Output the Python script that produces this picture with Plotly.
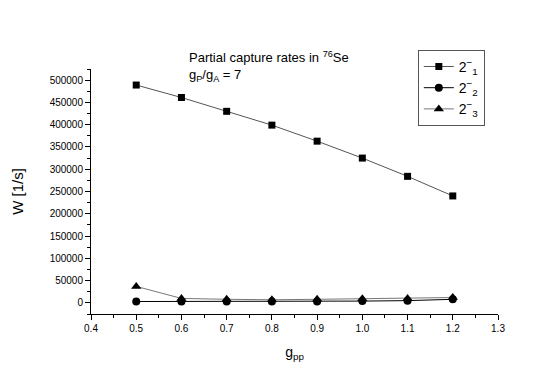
"""Partial capture rates in 76Se, gP/gA = 7."""

import plotly.graph_objects as go

g_pp = [0.5, 0.6, 0.7, 0.8, 0.9, 1.0, 1.1, 1.2]
w_2m1 = [489000, 461000, 430000, 399000, 363000, 325000, 284000, 240000]
w_2m2 = [3000, 3000, 3000, 3000, 3000, 4000, 5000, 8000]
w_2m3 = [37000, 10000, 8000, 7000, 8000, 9000, 10000, 12000]

series = [
    ("2<sup>−</sup><sub>1</sub>", w_2m1, "square", 7, "#555555"),
    ("2<sup>−</sup><sub>2</sub>", w_2m2, "circle", 8, "#000000"),
    ("2<sup>−</sup><sub>3</sub>", w_2m3, "triangle-up", 9, "#777777"),
]

fig = go.Figure()
for name, ys, symbol, size, line_color in series:
    fig.add_trace(go.Scatter(
        x=g_pp, y=ys, mode="lines+markers", name=name,
        line=dict(color=line_color, width=1),
        marker=dict(symbol=symbol, size=size, color="black"),
    ))

axis_common = dict(
    showline=True, linecolor="black", linewidth=1,
    ticks="outside", ticklen=5, tickcolor="black",
    showgrid=False, zeroline=False, automargin=False,
    tickfont=dict(family="Liberation Sans, Arial", size=10, color="black"),
)

fig.update_xaxes(
    range=[0.4, 1.3], dtick=0.1, tickformat=".1f",
    minor=dict(ticks="outside", ticklen=3, dtick=0.05, tickcolor="black"),
    title=dict(text="g<sub>pp</sub>", font=dict(size=14), standoff=14),
    **axis_common,
)
fig.update_yaxes(
    range=[-25000, 525000], dtick=50000, tickformat="d",
    minor=dict(ticks="outside", ticklen=3, dtick=25000, tickcolor="black"),
    title=dict(text="W [1/s]", font=dict(size=15), standoff=22),
    **axis_common,
)

fig.add_annotation(
    xref="paper", yref="paper", x=0.235, y=0.93, xanchor="left", yanchor="bottom",
    align="left", showarrow=False,
    text="Partial capture rates in <sup>76</sup>Se<br>g<sub>P</sub>/g<sub>A</sub> = 7",
    font=dict(family="Liberation Sans, Arial", size=13, color="black"),
)

# page body has an 8px margin, so the figure is a bit smaller than the window
fig.update_layout(
    width=537, height=369,
    margin=dict(l=83, r=47, t=61, b=63, autoexpand=False),
    paper_bgcolor="white", plot_bgcolor="white",
    font=dict(family="Liberation Sans, Arial", color="black"),
    legend=dict(
        x=0.803, y=1.078, xanchor="left", yanchor="top",
        bordercolor="#555555", borderwidth=1, bgcolor="white",
        font=dict(size=14), itemwidth=30, tracegroupgap=2,
    ),
    showlegend=True,
)

fig.write_html("out.html")
